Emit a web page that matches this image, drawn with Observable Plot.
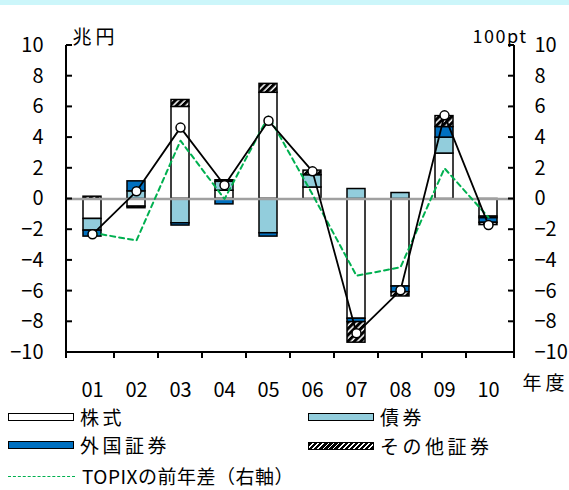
<!DOCTYPE html>
<html>
<head>
<meta charset="utf-8">
<script src="https://cdn.jsdelivr.net/npm/d3@7"></script>
<script src="https://cdn.jsdelivr.net/npm/@observablehq/plot@0.6"></script>
<style>
  html, body { margin: 0; padding: 0; background: #fff; }
  body { width: 569px; height: 490px; position: relative; overflow: hidden;
         font-family: "Noto Sans CJK JP", sans-serif; color: #000; }
  #strip { position: absolute; left: 0; top: 0; width: 569px; height: 5px; background: #ccf6fa; }
  #chart { position: absolute; left: 0; top: 0; }
  #legend { position: absolute; left: 0; top: 406px; width: 569px; height: 84px; }
  .item { position: absolute; height: 24px; display: flex; align-items: center; }
  .sw { width: 64px; height: 6px; border: 1.8px solid #000; box-sizing: content-box; margin-right: 6px; }
  .lbl { font-size: 19px; letter-spacing: 3.5px; line-height: 24px; }
  .dash { width: 67px; height: 0; border-top: 1.6px dashed #00b050; margin-right: 7px; }
</style>
</head>
<body>
<div id="strip"></div>
<div id="chart"></div>
<div id="legend"></div>
<script>
// ---- data ----
const years   = ["01","02","03","04","05","06","07","08","09","10"];
const seriesNames = ["株式","債券","外国証券","その他証券"];
const stocks  = [-1.30, -0.50,  6.00,  0.54,  6.92, 0.75, -7.80, -5.70, 2.96, -1.15];
const bonds   = [-0.76,  0.50, -1.58,  0.58, -2.23, 0.80,  0.65,  0.39, 1.04, -0.10];
const foreign = [-0.39,  0.65, -0.15, -0.35, -0.22, 0.00, -0.22, -0.37, 0.69, -0.30];
const others  = [ 0.15, -0.10,  0.45,  0.10,  0.58, 0.30, -1.34, -0.28, 0.71, -0.15];
const total   = [-2.30,  0.50,  4.65,  0.90,  5.10, 1.80, -8.75, -5.95, 5.45, -1.70];
const topix   = [-2.20, -2.70,  3.80,  0.00,  5.40, 0.30, -5.00, -4.45, 2.00, -1.20];
const yTicks  = [-10,-8,-6,-4,-2,0,2,4,6,8,10];
const leftUnit = "兆円", rightUnit = "100pt", xUnit = "年度";
const legendLine = "TOPIXの前年差（右軸）";

// ---- tables ----
const seriesValues = [stocks, bonds, foreign, others];
const rows = [];
years.forEach((yr, i) => seriesNames.forEach((s, j) => rows.push({year: yr, series: s, value: seriesValues[j][i]})));
const totalRows = years.map((yr, i) => ({year: yr, value: total[i]}));
const topixRows = years.map((yr, i) => ({year: yr, value: topix[i]}));

const fills = ["#ffffff", "#92cddc", "#0070c0", "url(#hatch)"];

// pattern defs
const defsMark = () => {
  const defs = d3.create("svg:defs");
  const p = defs.append("pattern").attr("id", "hatch").attr("patternUnits", "userSpaceOnUse")
    .attr("width", 4.5).attr("height", 4.5).attr("patternTransform", "rotate(45)");
  p.append("rect").attr("width", 4.5).attr("height", 4.5).attr("fill", "#fff");
  p.append("rect").attr("width", 3).attr("height", 4.5).attr("fill", "#000");
  return defs.node();
};

// axis lines and inward / boundary ticks, built from the scales
const frameTicks = (index, scales, values, dims) => {
  const x = scales.x, y = scales.y;
  const bw = typeof x.bandwidth === "function" ? x.bandwidth() : (x.bandwidth || 0);
  const L = dims.marginLeft, R = dims.width - dims.marginRight;
  const T = dims.marginTop, B = dims.height - dims.marginBottom;
  const g = d3.create("svg:g").attr("stroke", "#000").attr("stroke-width", 2).attr("fill", "none");
  g.append("line").attr("x1", L).attr("x2", L).attr("y1", T).attr("y2", B);
  g.append("line").attr("x1", R).attr("x2", R).attr("y1", T).attr("y2", B);
  g.append("line").attr("x1", L - 1).attr("x2", R + 1).attr("y1", B).attr("y2", B);
  yTicks.forEach(t => {
    const yy = y(t);
    g.append("line").attr("x1", L).attr("x2", L + 6).attr("y1", yy).attr("y2", yy);
    g.append("line").attr("x1", R - 6).attr("x2", R).attr("y1", yy).attr("y2", yy);
  });
  const centers = years.map(d => x(d) + bw / 2);
  const bounds = [L];
  for (let i = 1; i < centers.length; i++) bounds.push((centers[i - 1] + centers[i]) / 2);
  bounds.push(R);
  bounds.forEach(bx => g.append("line").attr("x1", bx).attr("x2", bx).attr("y1", B).attr("y2", B + 6));
  return g.node();
};

const chart = Plot.plot({
  width: 569,
  height: 406,
  marginLeft: 66,
  marginRight: 55,
  marginTop: 45,
  marginBottom: 54,
  style: {fontFamily: "'Noto Sans CJK JP', sans-serif", fontSize: "20px", background: "transparent", color: "#000", overflow: "visible"},
  x: {type: "band", domain: years, paddingInner: 0.58, paddingOuter: 0.29, axis: null},
  y: {domain: [-10, 10], axis: null},
  color: {domain: seriesNames, range: fills},
  marks: [
    defsMark,
    Plot.barY(rows, {x: "year", y: "value", fill: "series", stroke: "#000", strokeWidth: 1.5}),
    Plot.ruleY([0], {stroke: "#a0a0a0", strokeWidth: 2.5}),
    Plot.line(topixRows, {x: "year", y: "value", stroke: "#00b050", strokeWidth: 2, strokeDasharray: "5,4"}),
    Plot.line(totalRows, {x: "year", y: "value", stroke: "#000", strokeWidth: 1.8}),
    Plot.dot(totalRows, {x: "year", y: "value", r: 4.5, fill: "#fff", stroke: "#000", strokeWidth: 1.5}),
    frameTicks,
    Plot.axisY(yTicks, {anchor: "left", tickSize: 0, tickPadding: 23, label: null, fontSize: 20}),
    Plot.axisY(yTicks, {anchor: "right", tickSize: 0, tickPadding: 20, label: null, fontSize: 20}),
    Plot.axisX(years, {anchor: "bottom", tickSize: 0, tickPadding: 30, label: null, fontSize: 20}),
    Plot.text([leftUnit], {frameAnchor: "top-left", dx: 6, dy: -15, textAnchor: "start", fontSize: 19}),
    Plot.text([rightUnit], {frameAnchor: "top-right", dx: 13, dy: -15, textAnchor: "end", fontSize: 18}),
    Plot.text([xUnit], {frameAnchor: "bottom-right", dx: 8, dy: 37, textAnchor: "start", fontSize: 19})
  ]
});
// letter spacing of the unit labels
chart.querySelectorAll("text").forEach(el => {
  const s = el.textContent;
  if (s === leftUnit || s === xUnit) el.style.letterSpacing = "4px";
  if (s === rightUnit) el.style.letterSpacing = "1.5px";
});
document.getElementById("chart").appendChild(chart);

// ---- legend ----
const legend = document.getElementById("legend");
const hatchCss = "repeating-linear-gradient(-45deg, #000 0 2.4px, #fff 2.4px 3.6px)";
const items = [
  {name: seriesNames[0], bg: fills[0], left: 8, top: -1},
  {name: seriesNames[1], bg: fills[1], left: 308, top: -1},
  {name: seriesNames[2], bg: fills[2], left: 8, top: 27},
  {name: seriesNames[3], bg: hatchCss, left: 308, top: 28}
];
items.forEach(it => {
  const d = document.createElement("div");
  d.className = "item";
  d.style.left = it.left + "px";
  d.style.top = it.top + "px";
  d.innerHTML = `<div class="sw" style="background:${it.bg}"></div><span class="lbl">${it.name}</span>`;
  legend.appendChild(d);
});
const t = document.createElement("div");
t.className = "item";
t.style.left = "8px";
t.style.top = "58px";
t.innerHTML = `<div class="dash"></div><span class="lbl" style="letter-spacing:0.5px">${legendLine}</span>`;
legend.appendChild(t);
</script>
</body>
</html>
